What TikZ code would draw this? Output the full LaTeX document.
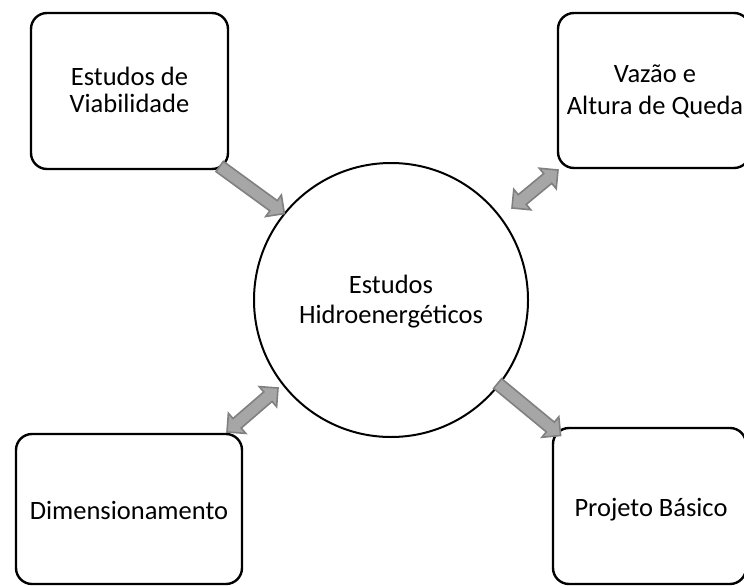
\documentclass[tikz,border=0pt]{standalone}
\usepackage{fontspec}
\setmainfont{Carlito}
\usetikzlibrary{shapes.arrows,calc}
\definecolor{arrfill}{RGB}{166,166,166}
\definecolor{arrline}{RGB}{128,128,128}
\newcommand\boxtext[2][4pt]{\raisebox{-#1}[\height][\depth]{\begin{tabular}{@{}c@{}}#2\end{tabular}}}
\tikzset{
  box/.style={rectangle, draw=black, line width=2.4pt, rounded corners=16pt,
    align=center, inner sep=0pt, font=\fontsize{26.5}{28}\selectfont},
  hub/.style={circle, draw=black, line width=2pt, minimum size=274pt,
    align=center, inner sep=0pt, font=\fontsize{26.5}{28}\selectfont},
  onearrow/.style={single arrow, draw=arrline, fill=arrfill, line width=1.6pt,
    inner sep=0pt, inner ysep=5.5pt, minimum width=0pt,
    single arrow head extend=7pt, single arrow tip angle=90, anchor=tail},
  twoarrow/.style={double arrow, draw=arrline, fill=arrfill, line width=1.6pt,
    inner sep=0pt, inner ysep=5.5pt, minimum width=0pt,
    double arrow head extend=7pt, double arrow tip angle=90, anchor=center}
}
\newcommand\oneconn[3]{\path let \p1=(#2), \p2=(#3),
  \n1={atan2(\y2-\y1,\x2-\x1)}, \n2={veclen(\x2-\x1,\y2-\y1)} in
  node[onearrow, rotate=\n1, minimum height=\n2] (#1) at (\p1) {};}
\newcommand\twoconn[3]{\path let \p1=(#2), \p2=(#3),
  \n1={atan2(\y2-\y1,\x2-\x1)}, \n2={veclen(\x2-\x1,\y2-\y1)} in
  node[twoarrow, rotate=\n1, minimum height=\n2] (#1) at ($(\p1)!0.5!(\p2)$) {};}
\begin{document}
\begin{tikzpicture}[x=1pt, y=-1pt]
  \useasboundingbox (0,0) rectangle (744,586);
  \clip (0,0) rectangle (744,586);
  \fill[white] (0,0) rectangle (744,586);

  \node[box, minimum width=197pt, minimum height=156pt] (viab) at (129.5,91)
    {\boxtext[2.5pt]{Estudos de\\[-1pt]Viabilidade}};
  \node[box, minimum width=192pt, minimum height=155pt] (vazao) at (654,90.5)
    {\rule{2pt}{0pt}\boxtext[2pt]{Vaz\~ao e\\[4pt]Altura de Queda}};
  \node[hub] (hidro) at (391,300)
    {\boxtext[3pt]{Estudos\\[2pt]Hidroenerg\'eticos}};
  \node[box, minimum width=226pt, minimum height=150pt] (dim) at (129,509)
    {\boxtext[5pt]{Dimensionamento}};
  \node[box, minimum width=193pt, minimum height=156pt] (proj) at (649.5,506)
    {\rule{3pt}{0pt}\boxtext[5pt]{Projeto B\'asico}};

  \coordinate (a1s) at (219,166);
  \coordinate (a2a) at (512,208);
  \coordinate (a2b) at (558,170);
  \coordinate (a3a) at (227,432);
  \coordinate (a3b) at (278,388);
  \coordinate (a4s) at (497,383);
  \coordinate (a4e) at (560,435);

  \oneconn{arrA}{a1s}{hidro.141}
  \twoconn{arrB}{a2a}{a2b}
  \twoconn{arrC}{a3a}{a3b}
  \oneconn{arrD}{a4s}{a4e}
\end{tikzpicture}
\end{document}
